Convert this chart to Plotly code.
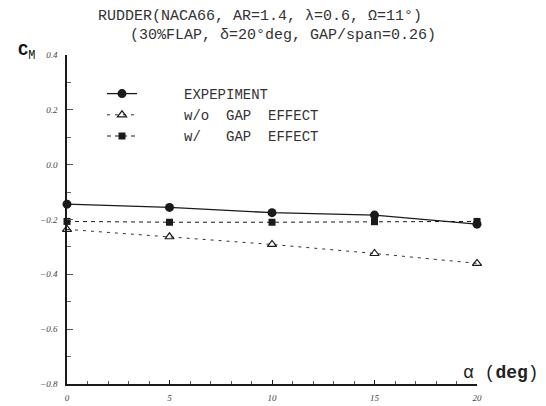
import plotly.graph_objects as go

alpha = [0, 5, 10, 15, 20]
cm_experiment = [-0.144, -0.156, -0.175, -0.184, -0.217]
cm_without_gap = [-0.236, -0.263, -0.291, -0.324, -0.360]
cm_with_gap = [-0.207, -0.210, -0.210, -0.208, -0.207]

names = ["     EXPEPIMENT", "     w/o  GAP  EFFECT", "     w/   GAP  EFFECT"]
title1 = "RUDDER(NACA66, AR=1.4, λ=0.6, Ω=11°)"
title2 = "(30%FLAP, δ=20°deg, GAP/span=0.26)"

INK = "#1a1a1a"
MONO = "Liberation Mono, Courier New, monospace"

fig = go.Figure()
fig.add_trace(go.Scatter(
    x=alpha, y=cm_experiment, name=names[0], mode="lines+markers",
    line=dict(color=INK, width=1.3),
    marker=dict(symbol="circle", size=9, color=INK),
    cliponaxis=False))
fig.add_trace(go.Scatter(
    x=alpha, y=cm_without_gap, name=names[1], mode="lines+markers",
    line=dict(color="#333333", width=1, dash="3px,5px"),
    marker=dict(symbol="triangle-up-open", size=8, color=INK, line=dict(width=1.2)),
    cliponaxis=False))
fig.add_trace(go.Scatter(
    x=alpha, y=cm_with_gap, name=names[2], mode="lines+markers",
    line=dict(color=INK, width=1, dash="4px,4px"),
    marker=dict(symbol="square", size=7, color=INK),
    cliponaxis=False))

# page body has an 8px margin: shrink the figure and shift every target position
OFF = 8
W, H = 546 - OFF, 406 - OFF
L, R, T, B = 67 - OFF, 546 - 477, 55 - OFF, 406 - 384
pw, ph = W - L - R, H - T - B

def px_x(p):
    return (p - OFF - L) / pw

def px_y(p):
    return (H - B - (p - OFF)) / ph

tick_font = dict(family="Liberation Serif, serif", size=9, color="#444", style="italic")

fig.update_layout(
    width=W, height=H,
    margin=dict(l=L, r=R, t=T, b=B, autoexpand=False),
    paper_bgcolor="white", plot_bgcolor="white",
    showlegend=True,
    legend=dict(
        x=px_x(102), y=px_y(78), xanchor="left", yanchor="top",
        font=dict(family=MONO, size=14, color="#333"),
        bgcolor="rgba(0,0,0,0)", tracegroupgap=0, itemwidth=30,
    ),
    xaxis=dict(
        range=[0, 20], showgrid=False, zeroline=False,
        showline=True, linecolor=INK, linewidth=1.5,
        tickmode="array", tickvals=alpha, ticktext=[str(a) for a in alpha],
        ticks="inside", ticklen=4, tickwidth=1, tickcolor=INK,
        minor=dict(dtick=1, ticks="inside", ticklen=3, tickcolor="#555"),
        tickfont=tick_font, ticklabelstandoff=4,
    ),
    yaxis=dict(
        range=[-0.8, 0.4], showgrid=False, zeroline=False,
        showline=True, linecolor=INK, linewidth=1.5,
        dtick=0.2, tick0=0, tickformat=".1f",
        ticks="inside", ticklen=6, tickwidth=1, tickcolor="#555",
        minor=dict(dtick=0.1, ticks="inside", ticklen=4, tickcolor="#666"),
        tickfont=tick_font, ticklabelstandoff=6,
    ),
    annotations=[
        dict(text=title1, xref="paper", yref="paper", x=px_x(96), y=px_y(16.5),
             xanchor="left", yanchor="middle", showarrow=False,
             font=dict(family=MONO, size=15, color="#333")),
        dict(text=title2, xref="paper", yref="paper", x=px_x(128), y=px_y(35.5),
             xanchor="left", yanchor="middle", showarrow=False,
             font=dict(family=MONO, size=15, color="#333")),
        dict(text="<b>C</b><sub>M</sub>", xref="paper", yref="paper", x=px_x(16), y=px_y(52),
             xanchor="left", yanchor="middle", showarrow=False,
             font=dict(family=MONO, size=17, color="#111")),
        dict(text="α (<b>deg</b>)", xref="paper", yref="paper", x=px_x(541), y=px_y(373),
             xanchor="right", yanchor="middle", showarrow=False,
             font=dict(family=MONO, size=18, color="#222")),
    ],
)

fig.write_html("out.html")
